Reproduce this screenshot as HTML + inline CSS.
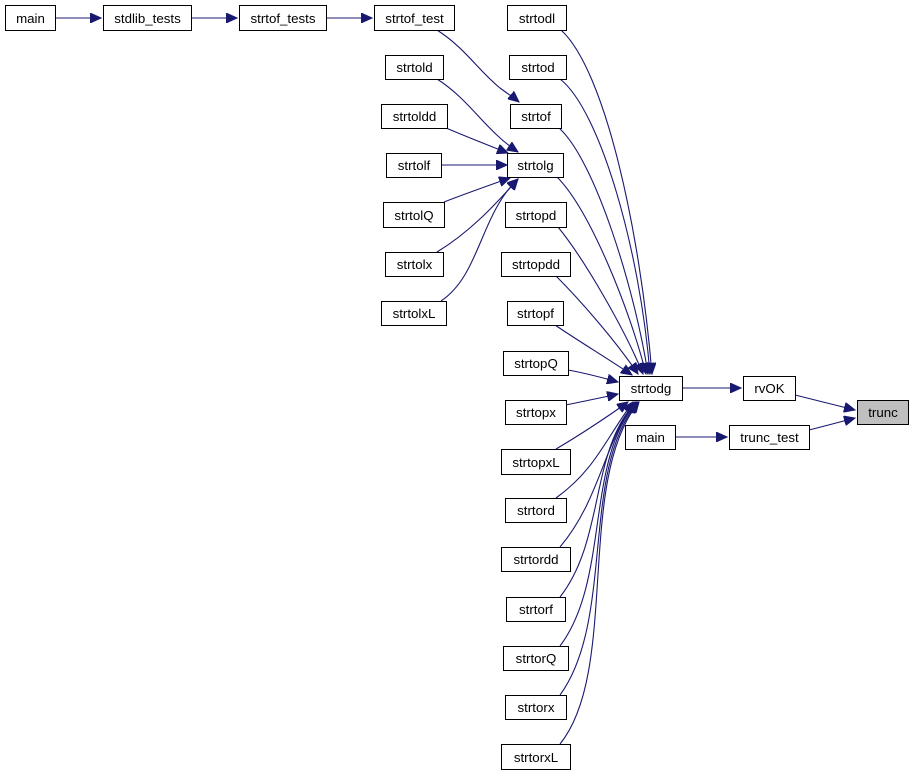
<!DOCTYPE html>
<html><head><meta charset="utf-8"><style>
html,body{margin:0;padding:0;background:#fff;}
svg{display:block;}
text{font-family:"Liberation Sans",Helvetica,sans-serif;font-size:13.3px;fill:#000;text-anchor:middle;}
rect{fill:#fff;stroke:#000;stroke-width:1;}
path{fill:none;stroke:#191970;stroke-width:1.1;}
</style></head><body>
<svg width="914" height="776" viewBox="0 0 914 776" xmlns="http://www.w3.org/2000/svg">
<defs>
<marker id="a" markerUnits="userSpaceOnUse" markerWidth="12" markerHeight="10" refX="11" refY="5" orient="auto">
<path d="M0,0 L11,5 L0,10 Z" style="fill:#191970;stroke:#191970;stroke-width:1"/>
</marker>
</defs>
<!-- top row edges -->
<path d="M55,18 H101" marker-end="url(#a)"/>
<path d="M191,18 H237" marker-end="url(#a)"/>
<path d="M326,18 H372" marker-end="url(#a)"/>
<!-- strtof_test -> strtof -->
<path d="M437,30 C465,48 478,70 500,88 C508,94 513,97 519,102" marker-end="url(#a)"/>
<!-- strtol* -> strtolg -->
<path d="M437,79 C470,100 485,130 518,152" marker-end="url(#a)"/>
<path d="M446,128 C465,136 490,146 508,153" marker-end="url(#a)"/>
<path d="M441,165 H507" marker-end="url(#a)"/>
<path d="M444,202 C465,194 490,185 510,178" marker-end="url(#a)"/>
<path d="M437,252 C470,232 495,205 518,179" marker-end="url(#a)"/>
<path d="M441,301 C480,275 480,215 518,179" marker-end="url(#a)"/>
<!-- middle column -> strtodg top -->
<path d="M561,30 C605,70 640,230 652,374" marker-end="url(#a)"/>
<path d="M560,79 C600,110 640,250 650,374" marker-end="url(#a)"/>
<path d="M559,128 C595,160 635,290 648,374" marker-end="url(#a)"/>
<path d="M557,177 C590,210 630,310 646,374" marker-end="url(#a)"/>
<path d="M558,227 C585,260 625,330 643,374" marker-end="url(#a)"/>
<path d="M556,276 C580,300 615,340 638,374" marker-end="url(#a)"/>
<path d="M555,325 C580,342 610,360 632,375" marker-end="url(#a)"/>
<path d="M568,370 C585,373 600,377 618,382" marker-end="url(#a)"/>
<!-- lower -> strtodg bottom -->
<path d="M566,405 C585,401 600,398 618,394" marker-end="url(#a)"/>
<path d="M556,449 C580,435 610,415 628,402" marker-end="url(#a)"/>
<path d="M556,498 C595,470 605,440 633,402" marker-end="url(#a)"/>
<path d="M560,547 C600,500 605,440 635,402" marker-end="url(#a)"/>
<path d="M560,597 C605,540 590,450 636,402" marker-end="url(#a)"/>
<path d="M560,646 C610,580 585,460 637,402" marker-end="url(#a)"/>
<path d="M560,695 C615,620 580,470 638,402" marker-end="url(#a)"/>
<path d="M560,744 C620,670 575,480 639,402" marker-end="url(#a)"/>
<!-- right side -->
<path d="M682,388 H741" marker-end="url(#a)"/>
<path d="M795,395 C815,400 835,405 855,410" marker-end="url(#a)"/>
<path d="M675,437 H727" marker-end="url(#a)"/>
<path d="M809,430 C825,426 840,422 855,418" marker-end="url(#a)"/>
<!-- nodes -->
<rect x="5.5" y="5.5" width="50" height="25"/><text x="30.5" y="23">main</text>
<rect x="103.5" y="5.5" width="88" height="25"/><text x="147.5" y="23">stdlib_tests</text>
<rect x="239.5" y="5.5" width="87" height="25"/><text x="283" y="23">strtof_tests</text>
<rect x="374.5" y="5.5" width="80" height="25"/><text x="414.5" y="23">strtof_test</text>
<rect x="385.5" y="55.5" width="58" height="24"/><text x="414.5" y="72">strtold</text>
<rect x="381.5" y="104.5" width="66" height="24"/><text x="414.5" y="121">strtoldd</text>
<rect x="386.5" y="153.5" width="55" height="24"/><text x="414" y="170">strtolf</text>
<rect x="383.5" y="202.5" width="61" height="25"/><text x="414" y="220">strtolQ</text>
<rect x="385.5" y="252.5" width="58" height="24"/><text x="414.5" y="269">strtolx</text>
<rect x="381.5" y="301.5" width="65" height="24"/><text x="414" y="318">strtolxL</text>
<rect x="507.5" y="5.5" width="59" height="25"/><text x="537" y="23">strtodl</text>
<rect x="509.5" y="55.5" width="57" height="24"/><text x="538" y="72">strtod</text>
<rect x="510.5" y="104.5" width="51" height="24"/><text x="536" y="121">strtof</text>
<rect x="507.5" y="153.5" width="56" height="24"/><text x="535.5" y="170">strtolg</text>
<rect x="505.5" y="202.5" width="61" height="25"/><text x="536" y="220">strtopd</text>
<rect x="501.5" y="252.5" width="69" height="24"/><text x="536" y="269">strtopdd</text>
<rect x="507.5" y="301.5" width="56" height="24"/><text x="535.5" y="318">strtopf</text>
<rect x="503.5" y="351.5" width="65" height="24"/><text x="536" y="368">strtopQ</text>
<rect x="505.5" y="400.5" width="61" height="24"/><text x="536" y="417">strtopx</text>
<rect x="501.5" y="449.5" width="69" height="25"/><text x="536" y="467">strtopxL</text>
<rect x="505.5" y="498.5" width="61" height="24"/><text x="536" y="515">strtord</text>
<rect x="501.5" y="547.5" width="69" height="24"/><text x="536" y="564">strtordd</text>
<rect x="506.5" y="597.5" width="59" height="24"/><text x="536" y="614">strtorf</text>
<rect x="503.5" y="646.5" width="65" height="24"/><text x="536" y="663">strtorQ</text>
<rect x="505.5" y="695.5" width="61" height="24"/><text x="536" y="712">strtorx</text>
<rect x="501.5" y="744.5" width="69" height="25"/><text x="536" y="762">strtorxL</text>
<rect x="619.5" y="376.5" width="63" height="24"/><text x="651" y="393">strtodg</text>
<rect x="743.5" y="376.5" width="52" height="24"/><text x="769.5" y="393">rvOK</text>
<rect x="625.5" y="425.5" width="50" height="24"/><text x="650.5" y="442">main</text>
<rect x="729.5" y="425.5" width="80" height="24"/><text x="769.5" y="442">trunc_test</text>
<rect x="857.5" y="400.5" width="51" height="24" style="fill:#bfbfbf"/><text x="883" y="417">trunc</text>
</svg>
</body></html>
